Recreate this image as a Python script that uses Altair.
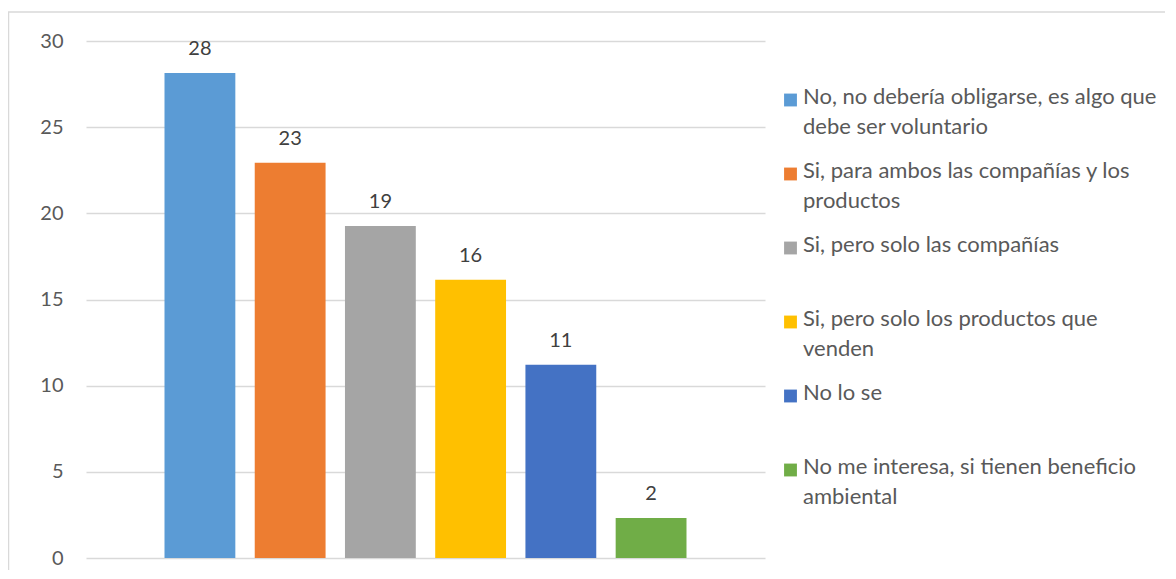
import altair as alt
import pandas as pd

categories = [
    "No, no debería obligarse, es algo que debe ser voluntario",
    "Si, para ambos las compañías y los productos",
    "Si, pero solo las compañías",
    "Si, pero solo los productos que venden",
    "No lo se",
    "No me interesa, si tienen beneficio ambiental",
]
legend_labels = [
    "No, no debería obligarse, es algo que|debe ser voluntario",
    "Si, para ambos las compañías y los|productos",
    "Si, pero solo las compañías",
    "Si, pero solo los productos que|venden",
    "No lo se",
    "No me interesa, si tienen beneficio|ambiental",
]
values = [28.15, 22.93, 19.27, 16.14, 11.21, 2.32]
colors = ["#5B9BD5", "#ED7D31", "#A5A5A5", "#FFC000", "#4472C4", "#70AD47"]

df = pd.DataFrame({"cat": categories, "val": values, "leg": legend_labels})

FONT = "Lato"
W, H = 679, 517

color_scale = alt.Scale(domain=categories, range=colors)
x_enc = alt.X("cat:N", sort=categories, axis=None,
              scale=alt.Scale(paddingInner=0.215, paddingOuter=0.87))
y_enc = alt.Y("val:Q", scale=alt.Scale(domain=[0, 30], nice=False),
              axis=alt.Axis(values=[0, 5, 10, 15, 20, 25, 30], title=None,
                            domain=False, ticks=False, labelPadding=23,
                            labelFontSize=20, labelColor="#595959",
                            labelFont=FONT, gridColor="#D9D9D9", gridWidth=1.3))

frame = pd.DataFrame({"a": [0]})
border_top = alt.Chart(frame).mark_rule(color="#D9D9D9", strokeWidth=1.5).encode(
    x=alt.value(-78), x2=alt.value(1200), y=alt.value(-29))
border_left = alt.Chart(frame).mark_rule(color="#D9D9D9", strokeWidth=1.5).encode(
    x=alt.value(-77.5), y=alt.value(-29), y2=alt.value(700))

bars = alt.Chart(df).mark_bar().encode(
    x=x_enc, y=y_enc,
    color=alt.Color("cat:N", scale=color_scale, legend=None),
)
labels = alt.Chart(df).mark_text(
    dy=-18, baseline="alphabetic", fontSize=20, font=FONT, color="#404040"
).encode(x=x_enc, y=y_enc, text=alt.Text("val:Q", format=".0f"))

leg_off = alt.YOffset("cat:N", sort=categories,
                      scale=alt.Scale(type="point", range=[0, 370], padding=0))
leg_sq = alt.Chart(df).mark_square(size=165, opacity=1).encode(
    x=alt.value(704.5), y=alt.value(59), yOffset=leg_off,
    color=alt.Color("cat:N", scale=color_scale, legend=None),
)
leg_tx = alt.Chart(df).mark_text(
    align="left", baseline="top", dy=-13, fontSize=22, font=FONT,
    color="#595959", lineBreak="|", lineHeight=30,
).encode(x=alt.value(717), y=alt.value(59), yOffset=leg_off, text="leg:N")

chart = alt.layer(border_top, border_left, bars, labels, leg_sq, leg_tx).properties(
    width=W, height=H,
    background="white",
    autosize=alt.AutoSizeParams(type="none"),
    padding={"left": 78, "top": 33, "right": 400, "bottom": 12},
).configure_view(strokeWidth=0, strokeOpacity=0).configure_axis(domain=False, ticks=False)

chart.save("out.html", embed_options={"renderer": "svg", "actions": False})
